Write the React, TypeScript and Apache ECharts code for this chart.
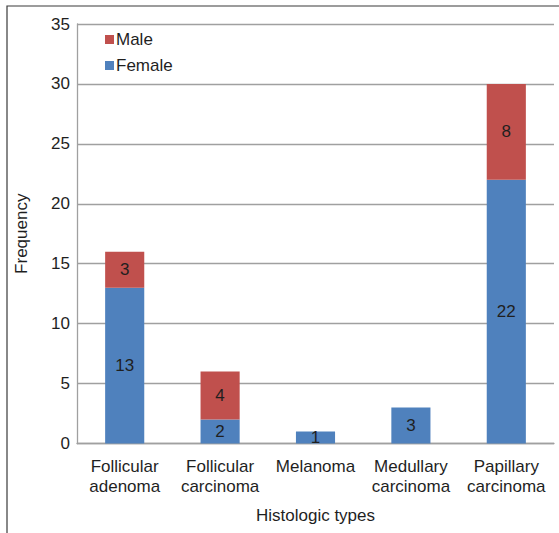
import React, { useEffect, useRef } from "react";
import * as echarts from "echarts";

const categories = [
  "Follicular\nadenoma",
  "Follicular\ncarcinoma",
  "Melanoma",
  "Medullary\ncarcinoma",
  "Papillary\ncarcinoma",
];
const femaleValues = [13, 2, 1, 3, 22];
const maleValues = [3, 4, 0, 0, 8];
const yTicks = { min: 0, max: 35, interval: 5 };

const FONT = "'Liberation Sans', Arial, sans-serif";
const TEXT = "#1f1f1f";

export default function App() {
  const ref = useRef<HTMLDivElement>(null);
  useEffect(() => {
    document.body.style.margin = "0";
    const chart = echarts.init(ref.current!, null, { renderer: "svg" });
    const labelFmt = (p: any) => (p.value ? String(p.value) : "");
    chart.setOption({
      animation: false,
      textStyle: { fontFamily: FONT },
      grid: { left: 77, right: 5, top: 24, bottom: 89.5, containLabel: false },
      legend: {
        data: ["Male", "Female"],
        orient: "vertical",
        left: 100,
        top: 26,
        icon: "rect",
        itemWidth: 9,
        itemHeight: 9,
        itemGap: 9,
        textStyle: { fontSize: 17, color: TEXT, fontFamily: FONT, padding: [0, 0, 0, -3] },
      },
      xAxis: {
        type: "category",
        data: categories,
        name: "Histologic types",
        nameLocation: "middle",
        nameGap: 63,
        nameTextStyle: { fontSize: 17, color: TEXT, fontFamily: FONT },
        axisLine: { lineStyle: { color: "#A0A0A0", width: 1.3 } },
        axisTick: { show: false },
        axisLabel: {
          interval: 0,
          fontSize: 17,
          color: TEXT,
          lineHeight: 20,
          margin: 13,
          fontFamily: FONT,
        },
      },
      yAxis: {
        type: "value",
        min: yTicks.min,
        max: yTicks.max,
        interval: yTicks.interval,
        name: "Frequency",
        nameLocation: "middle",
        nameGap: 47,
        nameTextStyle: { fontSize: 17, color: TEXT, fontFamily: FONT },
        axisLine: { show: true, lineStyle: { color: "#A0A0A0", width: 1.3 } },
        axisTick: { show: false },
        axisLabel: { fontSize: 17, color: TEXT, margin: 7, fontFamily: FONT },
        splitLine: { lineStyle: { color: "#A0A0A0", width: 1.3 } },
      },
      series: [
        {
          name: "Female",
          type: "bar",
          stack: "total",
          data: femaleValues,
          barWidth: "41%",
          itemStyle: { color: "#4F81BD" },
          label: { show: true, position: "inside", fontSize: 17, color: TEXT, fontFamily: FONT, formatter: labelFmt },
        },
        {
          name: "Male",
          type: "bar",
          stack: "total",
          data: maleValues,
          barWidth: "41%",
          itemStyle: { color: "#C0504D" },
          label: { show: true, position: "inside", fontSize: 17, color: TEXT, fontFamily: FONT, formatter: labelFmt },
        },
      ],
      graphic: [
        {
          type: "rect",
          silent: true,
          z: 100,
          shape: { x: 7, y: 6, width: 700, height: 700 },
          style: { fill: "none", stroke: "#3a3a3a", lineWidth: 1.2 },
        },
      ],
    });
    return () => chart.dispose();
  }, []);
  return <div ref={ref} style={{ width: 559, height: 533 }} />;
}
